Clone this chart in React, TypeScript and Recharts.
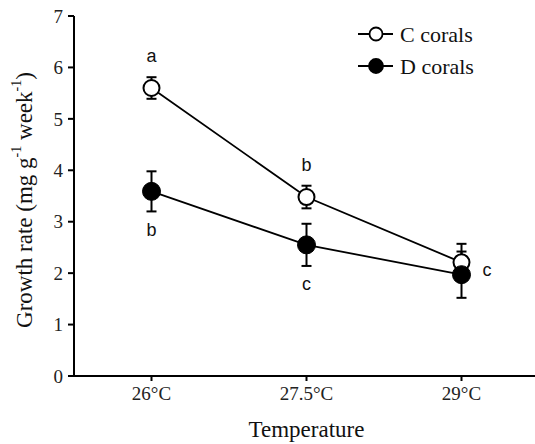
import React from "react";
import { LineChart, Line, XAxis, YAxis, ErrorBar, LabelList } from "recharts";

const temperatures = ["26°C", "27.5°C", "29°C"];
const cCorals = [5.6, 3.48, 2.21];
const cErrors = [0.21, 0.22, 0.36];
const dCorals = [3.59, 2.55, 1.97];
const dErrors = [0.39, 0.41, 0.45];
const cLetters = ["a", "b", "c"];
const dLetters = ["b", "c", ""];
const yTicks = [0, 1, 2, 3, 4, 5, 6, 7];
const seriesNames = ["C corals", "D corals"];

const SERIF = '"Liberation Serif", "Times New Roman", serif';
const SANS = '"Liberation Sans", Arial, sans-serif';

const data = temperatures.map((t, i) => ({
  x: i,
  temp: t,
  c: cCorals[i],
  cErr: cErrors[i],
  d: dCorals[i],
  dErr: dErrors[i],
  cLetter: cLetters[i],
  dLetter: dLetters[i],
}));

// C letters sit above the point, except the last one which sits to the right
const CLetter = (props: any) => {
  const { x, y, value, index } = props;
  if (!value) return null;
  const right = index === data.length - 1;
  return (
    <text
      x={right ? x + 21 : x}
      y={right ? y + 8 : y - 32}
      textAnchor={right ? "start" : "middle"}
      dominantBaseline="central"
      fontFamily={SANS}
      fontSize={18}
      fill="#111"
    >
      {value}
    </text>
  );
};

const DLetter = (props: any) => {
  const { x, y, value } = props;
  if (!value) return null;
  return (
    <text
      x={x}
      y={y + 39}
      textAnchor="middle"
      dominantBaseline="central"
      fontFamily={SANS}
      fontSize={18}
      fill="#111"
    >
      {value}
    </text>
  );
};

const YLabel = (props: any) => {
  const { viewBox } = props;
  const cy = viewBox.y + viewBox.height / 2 + 4;
  const cx = 24;
  return (
    <text
      x={cx}
      y={cy}
      transform={`rotate(-90, ${cx}, ${cy})`}
      textAnchor="middle"
      dominantBaseline="central"
      fontFamily={SERIF}
      fontSize={23}
      fill="#111"
    >
      Growth rate (mg g
      <tspan dy={-8} fontSize={14}>-1</tspan>
      <tspan dy={8}> week</tspan>
      <tspan dy={-8} fontSize={14}>-1</tspan>
      <tspan dy={8}>)</tspan>
    </text>
  );
};

const XLabel = (props: any) => {
  const { viewBox } = props;
  return (
    <text
      x={viewBox.x + viewBox.width / 2}
      y={437}
      textAnchor="middle"
      fontFamily={SERIF}
      fontSize={23}
      fill="#111"
    >
      Temperature
    </text>
  );
};

const LegendBox = () => (
  <svg width={180} height={70}>
    {seriesNames.map((name, i) => {
      const y = 12 + i * 32;
      const filled = i === 1;
      return (
        <g key={name}>
          <line x1={0} x2={35} y1={y} y2={y} stroke="#000" strokeWidth={1.8} />
          <circle
            cx={18}
            cy={y}
            r={filled ? 7 : 6.5}
            fill={filled ? "#000" : "#fff"}
            stroke="#000"
            strokeWidth={1.8}
          />
          <text x={42} y={y} dominantBaseline="central" fontFamily={SERIF} fontSize={22} fill="#111">
            {name}
          </text>
        </g>
      );
    })}
  </svg>
);

export default function App() {
  return (
    <div style={{ position: "absolute", left: 0, top: 0, width: 535, height: 444, background: "#fff", overflow: "hidden" }}>
      <LineChart width={539} height={444} data={data} margin={{ top: 16, right: 0, bottom: 0, left: 0 }}>
        <XAxis
          dataKey="x"
          type="number"
          domain={[-0.5, 2.5]}
          ticks={[0, 1, 2]}
          tickFormatter={(v: number) => temperatures[v]}
          height={68}
          tickSize={5}
          tickMargin={6}
          axisLine={{ stroke: "#000", strokeWidth: 2 }}
          tickLine={{ stroke: "#000", strokeWidth: 2 }}
          tick={{ fontFamily: SERIF, fontSize: 19, fill: "#222" }}
          label={{ content: <XLabel /> }}
        />
        <YAxis
          domain={[0, 7]}
          ticks={yTicks}
          width={74}
          tickSize={6}
          tickMargin={5}
          axisLine={{ stroke: "#000", strokeWidth: 2 }}
          tickLine={{ stroke: "#000", strokeWidth: 2 }}
          tick={{ fontFamily: SERIF, fontSize: 19, fill: "#222" }}
          label={{ content: <YLabel /> }}
        />
        <Line
          dataKey="c"
          name={seriesNames[0]}
          stroke="#000"
          strokeWidth={1.8}
          isAnimationActive={false}
          dot={{ r: 8, fill: "#fff", stroke: "#000", strokeWidth: 2 }}
          activeDot={false}
        >
          <ErrorBar dataKey="cErr" direction="y" width={5} stroke="#000" strokeWidth={2} />
          <LabelList dataKey="cLetter" content={<CLetter />} />
        </Line>
        <Line
          dataKey="d"
          name={seriesNames[1]}
          stroke="#000"
          strokeWidth={1.8}
          isAnimationActive={false}
          dot={{ r: 9, fill: "#000", stroke: "#000", strokeWidth: 1 }}
          activeDot={false}
        >
          <ErrorBar dataKey="dErr" direction="y" width={5} stroke="#000" strokeWidth={2} />
          <LabelList dataKey="dLetter" content={<DLetter />} />
        </Line>
      </LineChart>
      <div style={{ position: "absolute", left: 358, top: 22 }}>
        <LegendBox />
      </div>
    </div>
  );
}
